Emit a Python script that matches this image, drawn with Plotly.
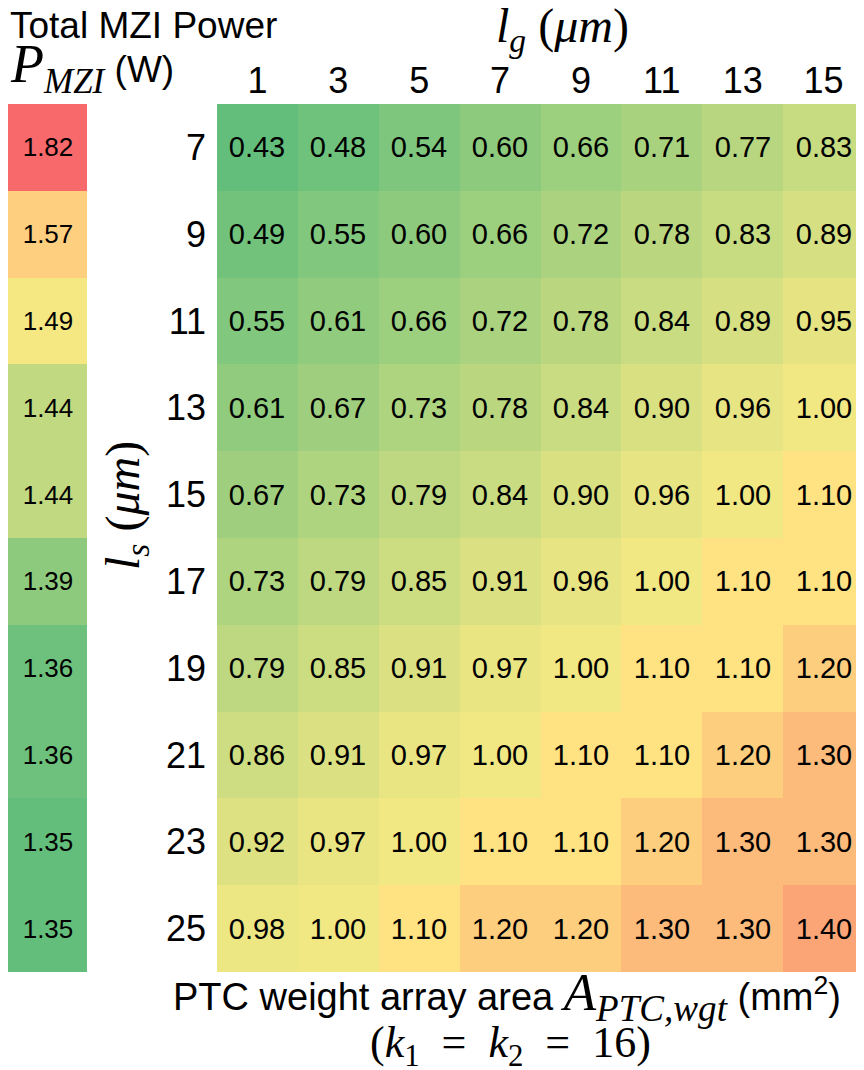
import plotly.graph_objects as go

# ---- data ----
lg_values = [1, 3, 5, 7, 9, 11, 13, 15]          # columns, l_g (um)
ls_values = [7, 9, 11, 13, 15, 17, 19, 21, 23, 25]  # rows, l_s (um)

area_ls7 = [0.43, 0.48, 0.54, 0.60, 0.66, 0.71, 0.77, 0.83]
area_ls9 = [0.49, 0.55, 0.60, 0.66, 0.72, 0.78, 0.83, 0.89]
area_ls11 = [0.55, 0.61, 0.66, 0.72, 0.78, 0.84, 0.89, 0.95]
area_ls13 = [0.61, 0.67, 0.73, 0.78, 0.84, 0.90, 0.96, 1.00]
area_ls15 = [0.67, 0.73, 0.79, 0.84, 0.90, 0.96, 1.00, 1.10]
area_ls17 = [0.73, 0.79, 0.85, 0.91, 0.96, 1.00, 1.10, 1.10]
area_ls19 = [0.79, 0.85, 0.91, 0.97, 1.00, 1.10, 1.10, 1.20]
area_ls21 = [0.86, 0.91, 0.97, 1.00, 1.10, 1.10, 1.20, 1.30]
area_ls23 = [0.92, 0.97, 1.00, 1.10, 1.10, 1.20, 1.30, 1.30]
area_ls25 = [0.98, 1.00, 1.10, 1.20, 1.20, 1.30, 1.30, 1.40]

p_mzi = [1.82, 1.57, 1.49, 1.44, 1.44, 1.39, 1.36, 1.36, 1.35, 1.35]

area = [area_ls7, area_ls9, area_ls11, area_ls13, area_ls15,
        area_ls17, area_ls19, area_ls21, area_ls23, area_ls25]

# ---- styling ----
OFF = 8                      # page body margin
W, H = 864 - OFF, 1070 - OFF
GREEN, YELLOW, RED = "#63BE7B", "#FFEB84", "#F8696B"
SANS = "Liberation Sans, Arial, sans-serif"
SERIF = "Liberation Serif, Times New Roman, serif"
SP = "\u2002"   # wider space around '=' like LaTeX


def px_x(x):
    return max(0.0, (x - OFF) / W)


def px_y(y):
    return 1 - (y - OFF) / H


y_dom = [px_y(972), px_y(104)]

main_min, main_mid, main_max = 0.43, 1.055, 1.70
left_min, left_mid, left_max = 1.35, 1.50, 1.82

fig = go.Figure()

fig.add_trace(go.Heatmap(
    z=area,
    x=list(range(len(lg_values))),
    y=list(range(len(ls_values))),
    colorscale=[[0, GREEN],
                [(main_mid - main_min) / (main_max - main_min), YELLOW],
                [1, RED]],
    zmin=main_min, zmax=main_max,
    showscale=False,
    texttemplate="%{z:.2f}",
    textfont=dict(family=SANS, size=29, color="black"),
    hoverinfo="skip",
    xaxis="x", yaxis="y",
))

fig.add_trace(go.Heatmap(
    z=[[v] for v in p_mzi],
    x=[0],
    y=list(range(len(ls_values))),
    colorscale=[[0, GREEN],
                [(left_mid - left_min) / (left_max - left_min), YELLOW],
                [1, RED]],
    zmin=left_min, zmax=left_max,
    showscale=False,
    texttemplate="%{z:.2f}",
    textfont=dict(family=SANS, size=26, color="black"),
    hoverinfo="skip",
    xaxis="x2", yaxis="y2",
))

fig.update_layout(
    width=W, height=H,
    margin=dict(l=0, r=0, t=0, b=0),
    paper_bgcolor="white", plot_bgcolor="white",
    font=dict(family=SANS, color="black"),
    xaxis=dict(
        domain=[px_x(217), 1.0], range=[-0.5, 7.5], side="top",
        tickmode="array", tickvals=list(range(len(lg_values))),
        ticktext=[str(v) for v in lg_values],
        tickfont=dict(family=SANS, size=36, color="black"),
        ticks="", showgrid=False, zeroline=False, showline=False,
        ticklabelstandoff=3, anchor="y",
    ),
    yaxis=dict(
        domain=y_dom, range=[9.5, -0.5],
        tickmode="array", tickvals=list(range(len(ls_values))),
        ticktext=[str(v) for v in ls_values],
        tickfont=dict(family=SANS, size=36, color="black"),
        ticks="", showgrid=False, zeroline=False, showline=False,
        ticklabelstandoff=10, anchor="x",
    ),
    xaxis2=dict(domain=[px_x(7), px_x(87)], range=[-0.5, 0.5],
                visible=False, anchor="y2"),
    yaxis2=dict(domain=y_dom, range=[9.5, -0.5], visible=False, anchor="x2"),
)


def mspan(s, size):
    return f"<span style='font-family:{SERIF};font-size:{size}px'>{s}</span>"


annotations = [
    dict(text="Total MZI Power", x=px_x(0), y=px_y(26), xanchor="left",
         yanchor="middle", font=dict(family=SANS, size=37)),
    dict(text=(mspan("<i>P</i>", 54) + mspan("<sub><i>MZI</i></sub>", 50)
               + " (W)"),
         x=px_x(2), y=px_y(67), xanchor="left", yanchor="middle",
         font=dict(family=SANS, size=37)),
    dict(text=mspan("<i>l</i><sub><i>g</i></sub> (<i>μm</i>)", 48),
         x=px_x(562), y=px_y(29), xanchor="center", yanchor="middle",
         font=dict(family=SERIF, size=48)),
    dict(text=mspan("<i>l</i><sub><i>s</i></sub> (<i>μm</i>)", 48),
         x=px_x(126), y=px_y(505), xanchor="center", yanchor="middle",
         textangle=-90, font=dict(family=SERIF, size=48)),
    dict(text=("PTC weight array area "
               + mspan("<i>A</i><sub><i>PTC,wgt</i></sub>", 53)
               + " (mm<sup>2</sup>)"),
         x=px_x(507), y=px_y(996), xanchor="center", yanchor="middle",
         font=dict(family=SANS, size=38)),
    dict(text=f"(<i>k</i><sub>1</sub>{SP}={SP}<i>k</i><sub>2</sub>{SP}={SP}16)",
         x=px_x(510), y=px_y(1045), xanchor="center", yanchor="middle",
         font=dict(family=SERIF, size=44)),
]
for a in annotations:
    a.update(xref="paper", yref="paper", showarrow=False)
fig.update_layout(annotations=annotations)

fig.write_html("out.html")
